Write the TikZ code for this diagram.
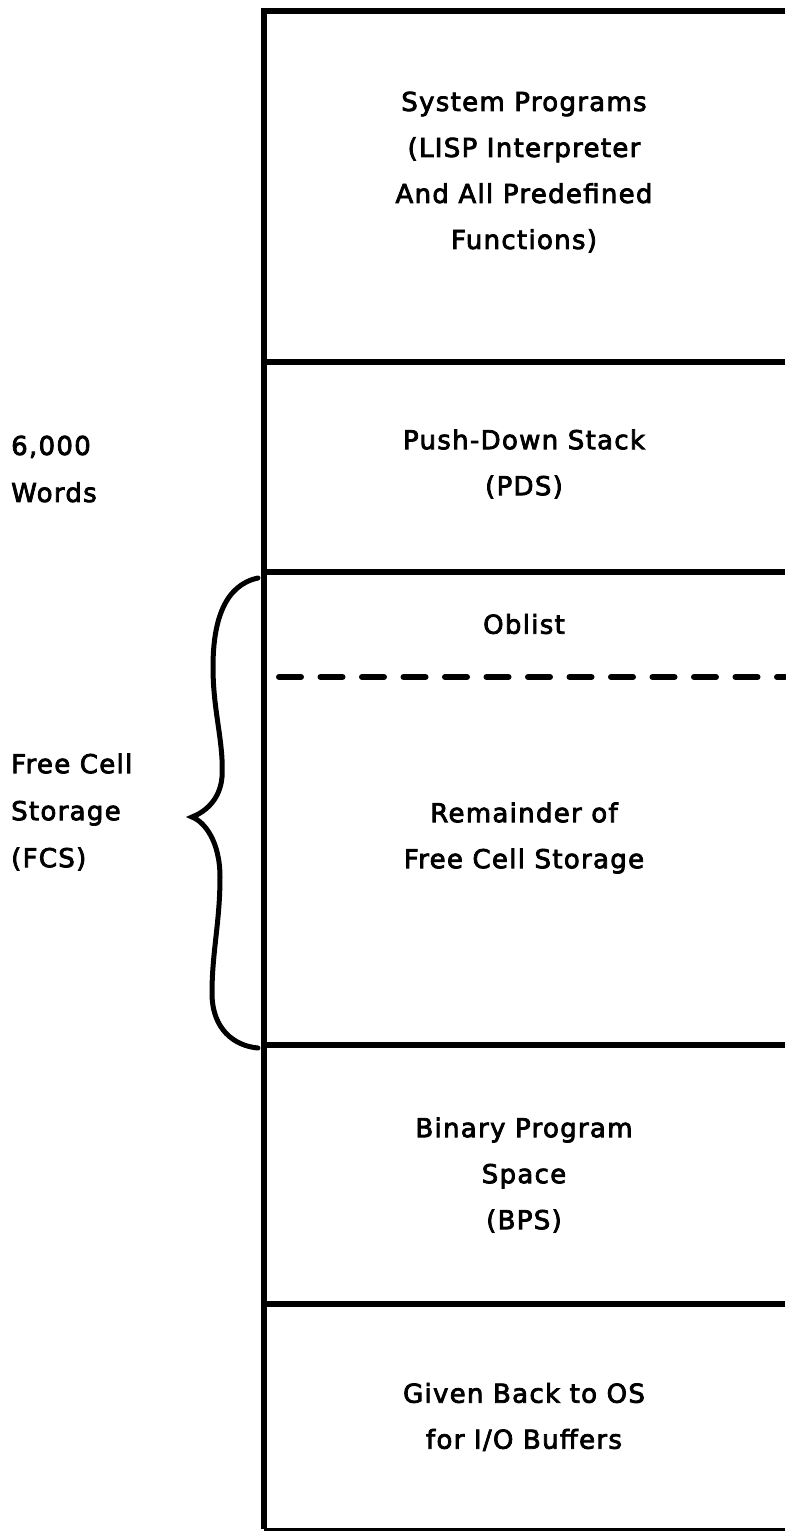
\documentclass[tikz,border=0pt]{standalone}
\usepackage{fontspec}
\setmainfont{DejaVu Sans}[LetterSpace=5,BoldFont={DejaVu Sans},BoldFeatures={FakeBold=3}]
\tikzset{
  boxline/.style={line width=5.5pt},
  dashline/.style={line width=6pt, line cap=round, dash pattern=on 22pt off 19.5pt},
  bracestyle/.style={line width=5pt, line cap=round},
  lbl/.style={align=center, inner sep=0pt, font=\fontsize{26}{46}\selectfont\bfseries},
  side/.style={align=left, anchor=west, inner sep=0pt, font=\fontsize{26}{47}\selectfont\bfseries}
}
\begin{document}
\begin{tikzpicture}[x=1pt,y=-1pt]
\useasboundingbox (0,0) rectangle (785,1532);
% frame
\coordinate (tl) at (264,11);
\coordinate (bl) at (264,1529);
\draw[boxline] (785,11) -- (tl) -- (bl);
\draw[line width=3pt] (bl) -- (785,1529);
\draw[boxline] (264,362) -- (785,362);
\draw[boxline] (264,572) -- (785,572);
\draw[dashline] (279,677) -- (785,677);
\draw[boxline] (264,1045) -- (785,1045);
\draw[boxline] (264,1304) -- (785,1304);
% texts
\node[lbl] (sys) at (524,172) {System Programs\\(LISP Interpreter\\And All Predefined\\Functions)};
\node[lbl] (pds) at (524,464) {Push-Down Stack\\(PDS)};
\node[lbl] (obl) at (524,624) {Oblist};
\node[lbl] (rem) at (524,838) {Remainder of\\Free Cell Storage};
\node[lbl] (bps) at (524,1175) {Binary Program\\Space\\(BPS)};
\node[lbl] (os) at (524,1417) {Given Back to OS\\for I/O Buffers};
\node[side] (words) at (11,469) {6,000\\Words};
\node[side] (fcs) at (11,812) {Free Cell\\Storage\\(FCS)};
% brace
\draw[bracestyle] (258,578) .. controls (225,585) and (213,620) .. (213,667)
  .. controls (213,712) and (224,742) .. (222,777)
  .. controls (220,800) and (205,812) .. (192,817)
  .. controls (205,822) and (220,842) .. (220,877)
  .. controls (220,922) and (212,952) .. (212,993)
  .. controls (212,1030) and (235,1046) .. (258,1048);
\end{tikzpicture}
\end{document}
